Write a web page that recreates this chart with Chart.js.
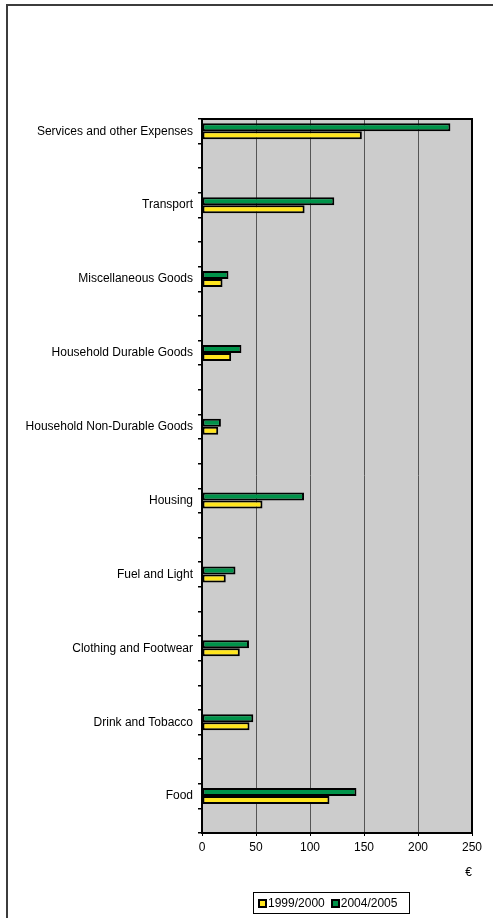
<!DOCTYPE html>
<html>
<head>
<meta charset="utf-8">
<script src="https://cdn.jsdelivr.net/npm/chart.js@4.4.1/dist/chart.umd.min.js"></script>
<style>
    body { margin: 0; background: #fff; }
    #wrap { position: relative; width: 493px; height: 918px; }
    #legend {
        position: absolute; left: 253px; top: 892px; width: 151px; height: 20px;
        border: 1px solid #000; font: 12px "Liberation Sans", Arial, sans-serif;
        display: flex; align-items: center; padding-left: 4px; box-sizing: content-box;
    }
    #legend span.box { display: inline-block; width: 5px; height: 5px; border: 2px solid #000; margin-right: 1px; }
    #legend span.item { display: flex; align-items: center; margin-right: 6px; }
</style>
</head>
<body>
<div id="wrap">
    <canvas id="chart" width="493" height="918"></canvas>
    <div id="legend"></div>
</div>
<script>
// categories, bottom to top as in the source sheet
const categories = ["Food", "Drink and Tobacco", "Clothing and Footwear", "Fuel and Light", "Housing",
    "Household Non-Durable Goods", "Household Durable Goods", "Miscellaneous Goods", "Transport",
    "Services and other Expenses"];
const spend9900 = [118, 44, 35, 22, 56, 15, 27, 19, 95, 148];
const spend0405 = [143, 47.5, 43.5, 31, 94.5, 17.5, 36.5, 24.5, 122.5, 230];
const seriesNames = ["1999/2000", "2004/2005"];
const seriesColors = ["#ffe51e", "#00934a"];
const xTicks = [0, 50, 100, 150, 200, 250];

// the original axis has two empty slots between categories
function spread(arr, blank) {
    const out = [];
    for (let i = arr.length - 1; i >= 0; i--) {
        out.push(arr[i]);
        out.push(blank);
        if (i > 0) out.push(blank);
    }
    return out;
}

const framePlugin = {
    id: 'frame',
    beforeDraw(chart) {
        const c = chart.ctx, a = chart.chartArea;
        c.save();
        c.fillStyle = '#cccccc';
        c.fillRect(a.left, a.top, a.right - a.left, a.bottom - a.top);
        c.strokeStyle = '#3c3c3c';
        c.lineWidth = 2;
        c.beginPath();
        c.moveTo(7, 918);
        c.lineTo(7, 5);
        c.lineTo(493, 5);
        c.stroke();
        c.restore();
    },
    afterDraw(chart) {
        const c = chart.ctx, a = chart.chartArea;
        c.save();
        c.strokeStyle = '#000';
        c.lineWidth = 2;
        c.strokeRect(a.left, a.top, a.right - a.left, a.bottom - a.top);
        c.restore();
    }
};

Chart.defaults.font.family = '"Liberation Sans", Arial, sans-serif';
Chart.defaults.font.size = 12;
Chart.defaults.color = '#000';

const ctx = document.getElementById("chart");
const myChart = new Chart(ctx, {
    type: 'bar',
    data: {
        labels: spread(categories, ''),
        datasets: [{
            label: seriesNames[1],
            data: spread(spend0405, null),
            backgroundColor: seriesColors[1],
            borderColor: '#000',
            borderWidth: 2,
            borderSkipped: false
        }, {
            label: seriesNames[0],
            data: spread(spend9900, null),
            backgroundColor: seriesColors[0],
            borderColor: '#000',
            borderWidth: 2,
            borderSkipped: false
        }]
    },
    options: {
        responsive: false,
        animation: false,
        indexAxis: 'y',
        categoryPercentage: 0.65,
        barPercentage: 1,
        layout: { padding: { left: 0, right: 21, top: 119, bottom: 0 } },
        plugins: {
            legend: { display: false },
            tooltip: { enabled: false }
        },
        scales: {
            x: {
                min: 0,
                max: 250,
                afterBuildTicks: s => { s.ticks = xTicks.map(v => ({ value: v })); },
                afterFit: s => { s.height = 85; },
                grid: { color: '#555', lineWidth: 1, tickLength: 3, tickColor: '#000' },
                border: { color: '#000', width: 2 },
                ticks: { padding: 4, maxRotation: 0 },
                title: { display: true, text: '€', align: 'end', padding: { top: 4, bottom: 38 } }
            },
            y: {
                afterFit: s => { s.width = 202; },
                grid: { offset: true, drawOnChartArea: false, tickLength: 4, color: '#000', lineWidth: 1.5 },
                border: { color: '#000', width: 2 },
                ticks: { autoSkip: false, padding: 5 }
            }
        }
    },
    plugins: [framePlugin]
});

// legend box like the original, built from the series arrays
const leg = document.getElementById("legend");
seriesNames.forEach((name, i) => {
    const item = document.createElement("span");
    item.className = "item";
    item.innerHTML = '<span class="box" style="background:' + seriesColors[i] + '"></span>' + name;
    leg.appendChild(item);
});
</script>
</body>
</html>
